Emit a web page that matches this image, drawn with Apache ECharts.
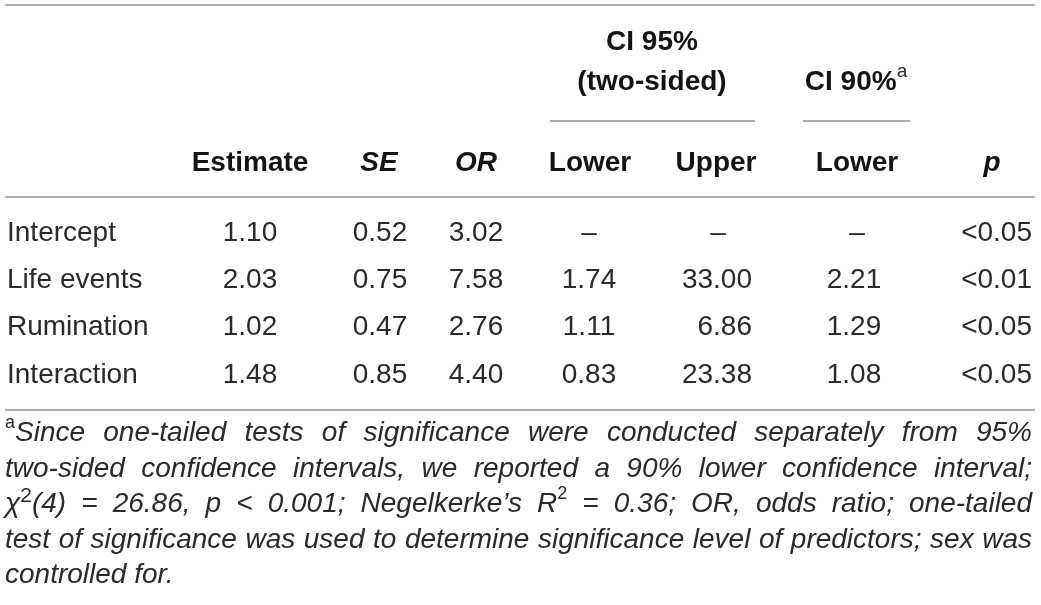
<!DOCTYPE html>
<html>
<head>
<meta charset="utf-8">
<script src="https://cdn.jsdelivr.net/npm/echarts@6/dist/echarts.min.js"></script>
<style>
html,body{margin:0;padding:0;background:#ffffff;}
#chart{width:1041px;height:605px;}
</style>
</head>
<body>
<div id="chart"></div>
<script>
// ---------------- data ----------------
const rowNames   = ['Intercept', 'Life events', 'Rumination', 'Interaction'];
const estimate   = ['1.10', '2.03', '1.02', '1.48'];
const stdError   = ['0.52', '0.75', '0.47', '0.85'];
const oddsRatio  = ['3.02', '7.58', '2.76', '4.40'];
const ci95Lower  = ['–', '1.74', '1.11', '0.83'];
const ci95Upper  = ['–', '33.00', '6.86', '23.38'];
const ci90Lower  = ['–', '2.21', '1.29', '1.08'];
const pValues    = ['<0.05', '<0.01', '<0.05', '<0.05'];
const columnHeaders = ['', 'Estimate', 'SE', 'OR', 'Lower', 'Upper', 'Lower', 'p'];
const groupHeaderCI95 = ['CI 95%', '(two-sided)'];
const groupHeaderCI90 = 'CI 90%{sup|a}';
const footnoteLines = [
  '{sup|a}Since one-tailed tests of significance were conducted separately from 95%',
  'two-sided confidence intervals, we reported a 90% lower confidence interval;',
  'χ{sup2|2}(4) = 26.86, p < 0.001; Negelkerke’s R{sup3|2} = 0.36; OR, odds ratio; one-tailed',
  'test of significance was used to determine significance level of predictors; sex was',
  'controlled for.'
];

// ---------------- layout & style ----------------
const FONT = '"Liberation Sans", Arial, Helvetica, sans-serif';
const TEXT = '#2a2a2a';
const HEAD = '#141414';
const RULE = '#8f8f8f';
const W = 1041, H = 605;
const layout = {
  headerX: [7, 250, 379, 476, 590, 716, 857, 992],
  cellX:   [7, 250, 380, 476, 589, 752, 854, 1032],
  dashX:   [7, 250, 380, 476, 589, 718, 857, 1032],
  cellAlign: ['left', 'center', 'center', 'center', 'center', 'right', 'center', 'right'],
  headerItalic: [false, false, true, true, false, false, false, true],
  rowY: [233, 280, 327.5, 375],
  headerY: 163,
  ci95X: 652, ci95Y: [42.5, 82],
  ci90X: 856, ci90Y: 82,
  rules: [[5, 1035, 5], [5, 1035, 197], [5, 1035, 410], [550, 755, 121], [803, 910, 121]],
  footLeft: 5, footRight: 1032, footY: [433.5, 469, 504.5, 540, 575.5],
  bodySize: 28, footSize: 28
};

const columnsData = [rowNames, estimate, stdError, oddsRatio, ci95Lower, ci95Upper, ci90Lower, pValues];

const items = [];
// header row
columnHeaders.forEach((h, c) => {
  if (!h) return;
  items.push({
    value: [layout.headerX[c], layout.headerY], text: h,
    label: { align: 'center', fontWeight: 'bold', fontStyle: layout.headerItalic[c] ? 'italic' : 'normal', fontSize: layout.bodySize, color: HEAD }
  });
});
// group headers
groupHeaderCI95.forEach((t, i) => {
  items.push({ value: [layout.ci95X, layout.ci95Y[i]], text: t,
    label: { align: 'center', fontWeight: 'bold', fontSize: layout.bodySize, color: HEAD } });
});
items.push({ value: [layout.ci90X, layout.ci90Y], text: groupHeaderCI90,
  label: { align: 'center', fontWeight: 'bold', fontSize: layout.bodySize, lineHeight: 40, color: HEAD,
    rich: { sup: { fontSize: 19, fontWeight: 'normal', fontFamily: FONT, color: TEXT, verticalAlign: 'top', lineHeight: 22 } } } });

// body cells
columnsData.forEach((col, c) => {
  col.forEach((v, r) => {
    const isDash = v === '–';
    items.push({
      value: [isDash ? layout.dashX[c] : layout.cellX[c], layout.rowY[r]], text: v,
      label: { align: isDash ? 'center' : layout.cellAlign[c], fontSize: layout.bodySize }
    });
  });
});

// footnote (justified like the source)
const footFont = 'italic ' + layout.footSize + 'px ' + FONT;
const richFoot = {
  sup:  { fontSize: 18, fontStyle: 'normal', fontFamily: FONT, color: TEXT, verticalAlign: 'top', lineHeight: 16 },
  sup2: { fontSize: 21, fontStyle: 'normal', fontFamily: FONT, color: TEXT, verticalAlign: 'top', lineHeight: 19 },
  sup3: { fontSize: 18, fontStyle: 'normal', fontFamily: FONT, color: TEXT, verticalAlign: 'top', lineHeight: 18 }
};
const ctx = document.createElement('canvas').getContext('2d');
function tokenWidth(tok) {
  let w = 0, last = 0;
  const re = /\{(\w+)\|([^}]*)\}/g;
  let m;
  while ((m = re.exec(tok))) {
    ctx.font = footFont;
    w += ctx.measureText(tok.slice(last, m.index)).width;
    const rs = richFoot[m[1]];
    ctx.font = 'normal ' + rs.fontSize + 'px ' + FONT;
    w += ctx.measureText(m[2]).width;
    last = re.lastIndex;
  }
  ctx.font = footFont;
  w += ctx.measureText(tok.slice(last)).width;
  return w;
}
footnoteLines.forEach((line, li) => {
  const words = line.split(' ');
  const widths = words.map(tokenWidth);
  const total = widths.reduce((a, b) => a + b, 0);
  const justify = li < footnoteLines.length - 1;
  ctx.font = footFont;
  const gap = justify ? (layout.footRight - layout.footLeft - total) / (words.length - 1) : ctx.measureText(' ').width;
  let x = layout.footLeft;
  words.forEach((w, wi) => {
    items.push({ value: [x, layout.footY[li]], text: w,
      label: { align: 'left', fontStyle: 'italic', fontSize: layout.footSize, lineHeight: 38, rich: richFoot } });
    x += widths[wi] + gap;
  });
});

const chart = echarts.init(document.getElementById('chart'), null, { renderer: 'canvas' });
chart.setOption({
  animation: false,
  backgroundColor: '#ffffff',
  grid: { left: 0, right: 0, top: 0, bottom: 0 },
  xAxis: { type: 'value', min: 0, max: W, show: false },
  yAxis: { type: 'value', min: 0, max: H, inverse: true, show: false },
  series: [{
    type: 'scatter',
    silent: true,
    symbolSize: 0,
    itemStyle: { color: 'rgba(0,0,0,0)', opacity: 1 },
    label: {
      show: true, position: [0, 0], verticalAlign: 'middle',
      fontFamily: FONT, color: TEXT, fontSize: layout.bodySize,
      textBorderWidth: 0,
      formatter: p => p.data.text
    },
    data: items,
    markLine: {
      silent: true, symbol: ['none', 'none'], label: { show: false },
      lineStyle: { color: RULE, width: 1.5, type: 'solid', opacity: 1 },
      data: layout.rules.map(r => [{ coord: [r[0], r[2]] }, { coord: [r[1], r[2]] }])
    }
  }]
});
</script>
</body>
</html>
